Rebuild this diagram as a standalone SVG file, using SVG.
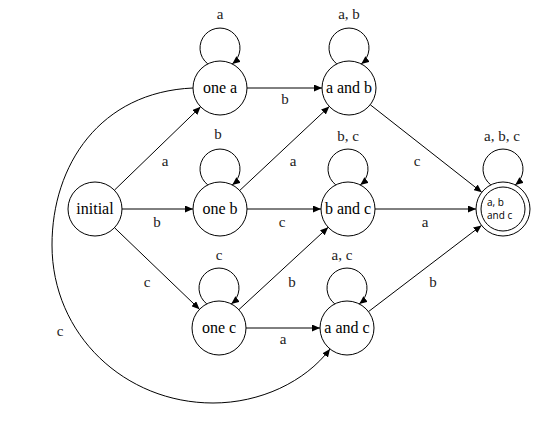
<svg xmlns="http://www.w3.org/2000/svg" width="560" height="428" viewBox="0 0 560 428">
<defs>
<marker id="arr" markerWidth="8" markerHeight="7" refX="8" refY="3.5" orient="auto" markerUnits="userSpaceOnUse">
<path d="M0,0 L8,3.5 L0,7 z" fill="#000"/>
</marker>
<style>
.n{fill:#fff;stroke:#000;stroke-width:1}
.e{fill:none;stroke:#000;stroke-width:1;marker-end:url(#arr)}
.t{font-family:'Liberation Serif','DejaVu Serif',serif;font-size:16px;fill:#000;text-anchor:middle}
.l{font-family:'Liberation Serif','DejaVu Serif',serif;font-size:15px;fill:#222;text-anchor:middle}
.s{font-family:'Open Sans','Noto Sans',sans-serif;font-size:10px;fill:#000}
</style>
</defs>
<rect width="560" height="428" fill="#fff"/>
<g id="connectors">
<path class="e" d="M114.4,190.2 L200.6,106.8"/>
<path class="e" d="M122,209 L193,209"/>
<path class="e" d="M114.5,227.7 L199.5,309.3"/>
<path class="e" d="M247,88 L322,88"/>
<path class="e" d="M239.7,190.5 L329.3,106.5"/>
<path class="e" d="M247,209 L321,209"/>
<path class="e" d="M238.8,309.7 L328.2,227.3"/>
<path class="e" d="M246,328 L320,328"/>
<path class="e" d="M370.2,104.7 L481.8,192.3"/>
<path class="e" d="M375,209 L476,209"/>
<path class="e" d="M368.5,311.6 L481.5,225.4"/>
<path class="e" d="M193,88 C100,92 52,165 52,245 C52,335 125,403 213,403 C260,403 305,382 330,349"/>
<path class="e" d="M207.8,63.9 A20 20 0 1 1 232.2,63.9"/>
<path class="e" d="M336.8,63.9 A20 20 0 1 1 361.2,63.9"/>
<path class="e" d="M207.8,184.9 A20 20 0 1 1 232.2,184.9"/>
<path class="e" d="M335.8,184.9 A20 20 0 1 1 360.2,184.9"/>
<path class="e" d="M490.8,184.9 A20 20 0 1 1 515.2,184.9"/>
<path class="e" d="M206.8,303.9 A20 20 0 1 1 231.2,303.9"/>
<path class="e" d="M334.8,303.9 A20 20 0 1 1 359.2,303.9"/>
<text class="l" x="220" y="19">a</text>
<text class="l" x="349" y="19">a, b</text>
<text class="l" x="218" y="139">b</text>
<text class="l" x="348" y="141">b, c</text>
<text class="l" x="502" y="141">a, b, c</text>
<text class="l" x="219" y="260">c</text>
<text class="l" x="342" y="260">a, c</text>
<text class="l" x="285" y="104">b</text>
<text class="l" x="165" y="166">a</text>
<text class="l" x="157" y="227">b</text>
<text class="l" x="147" y="287">c</text>
<text class="l" x="60" y="336">c</text>
<text class="l" x="293" y="166">a</text>
<text class="l" x="282" y="227">c</text>
<text class="l" x="292" y="287">b</text>
<text class="l" x="283" y="344">a</text>
<text class="l" x="417" y="166">c</text>
<text class="l" x="425" y="227">a</text>
<text class="l" x="433" y="287">b</text>
</g>
<g id="initial"><circle class="n" cx="95" cy="209" r="27"/><text class="t" x="95" y="214">initial</text></g>
<g id="one-a"><circle class="n" cx="220" cy="88" r="27"/><text class="t" x="220" y="93">one a</text></g>
<g id="a-and-b"><circle class="n" cx="349" cy="88" r="27"/><text class="t" x="349" y="93">a and b</text></g>
<g id="one-b"><circle class="n" cx="220" cy="209" r="27"/><text class="t" x="220" y="214">one b</text></g>
<g id="b-and-c"><circle class="n" cx="348" cy="209" r="27"/><text class="t" x="348" y="214">b and c</text></g>
<g id="one-c"><circle class="n" cx="219" cy="328" r="27"/><text class="t" x="219" y="333">one c</text></g>
<g id="a-and-c"><circle class="n" cx="347" cy="328" r="27"/><text class="t" x="347" y="333">a and c</text></g>
<g id="final"><circle class="n" cx="503" cy="209" r="27"/><circle class="n" cx="503" cy="209" r="22"/><text class="s" x="487" y="206">a, b</text><text class="s" x="487" y="219">and c</text></g>
</svg>
